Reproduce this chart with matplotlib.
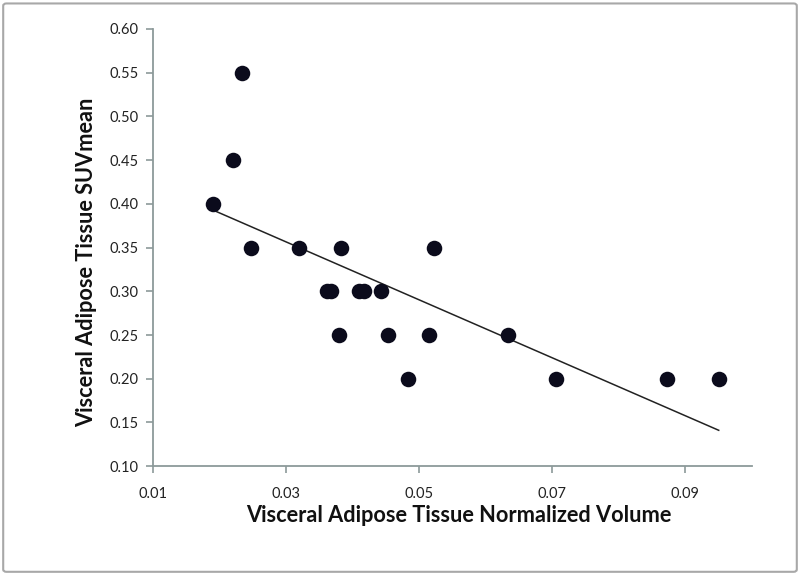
import numpy as np
import matplotlib.pyplot as plt
from matplotlib.patches import FancyBboxPatch

# values
volume = [0.0191, 0.0220, 0.0234, 0.0247, 0.0319, 0.0382,
          0.0362, 0.0368, 0.0409, 0.0417, 0.0443,
          0.0380, 0.0454, 0.0515, 0.0483, 0.0522,
          0.0633, 0.0706, 0.0873, 0.0950]
suv_mean = [0.40, 0.45, 0.55, 0.35, 0.35, 0.35,
            0.30, 0.30, 0.30, 0.30, 0.30,
            0.25, 0.25, 0.25, 0.20, 0.35,
            0.25, 0.20, 0.20, 0.20]
x_ticks = [0.01, 0.03, 0.05, 0.07, 0.09]
y_ticks = [0.10, 0.15, 0.20, 0.25, 0.30, 0.35, 0.40, 0.45, 0.50, 0.55, 0.60]

AXIS_GREY = '#8c9a9a'

fig = plt.figure(figsize=(8, 5.77), dpi=100)
ax = fig.add_axes([0.191, 0.192, 0.749, 0.758])

# gray frame around the whole chart
frame = FancyBboxPatch((0.004, 0.009), 0.992, 0.985, boxstyle='round,pad=0,rounding_size=0.004',
                       transform=fig.transFigure, fill=False, edgecolor='#a8a8a8', linewidth=1.5)
fig.patches.append(frame)

ax.scatter(volume, suv_mean, s=125, color='#0b0b1c', zorder=3, linewidths=0)

# linear trend line over the data range
slope, intercept = np.polyfit(volume, suv_mean, 1)
xs = np.array([min(volume), max(volume)])
ax.plot(xs, slope * xs + intercept, color='#222222', linewidth=1.1, zorder=2)

ax.set_xlim(0.01, 0.10)
ax.set_ylim(0.10, 0.60)
ax.set_xticks(x_ticks)
ax.set_yticks(y_ticks)
ax.set_xticklabels([f'{t:.2f}' for t in x_ticks])
ax.set_yticklabels([f'{t:.2f}' for t in y_ticks])

for side in ['top', 'right']:
    ax.spines[side].set_visible(False)
for side in ['left', 'bottom']:
    ax.spines[side].set_color(AXIS_GREY)
    ax.spines[side].set_linewidth(1.3)
ax.tick_params(axis='both', colors=AXIS_GREY, length=5, width=1.2, labelcolor='#222222',
               labelsize=10.5)
ax.tick_params(axis='x', pad=10)
ax.tick_params(axis='y', pad=5)
for lab in ax.get_xticklabels() + ax.get_yticklabels():
    lab.set_family('Lato')

ax.set_xlabel('Visceral Adipose Tissue Normalized Volume', fontsize=15.7, fontweight='bold',
              family='Lato', color='#111111', labelpad=3)
ax.set_ylabel('Visceral Adipose Tissue SUVmean', fontsize=15.7, fontweight='bold',
              family='Lato', color='#111111', labelpad=9)
ax.xaxis.label.set_x(0.51)
ax.yaxis.label.set_y(0.467)

fig.savefig('out.png', dpi=100)
